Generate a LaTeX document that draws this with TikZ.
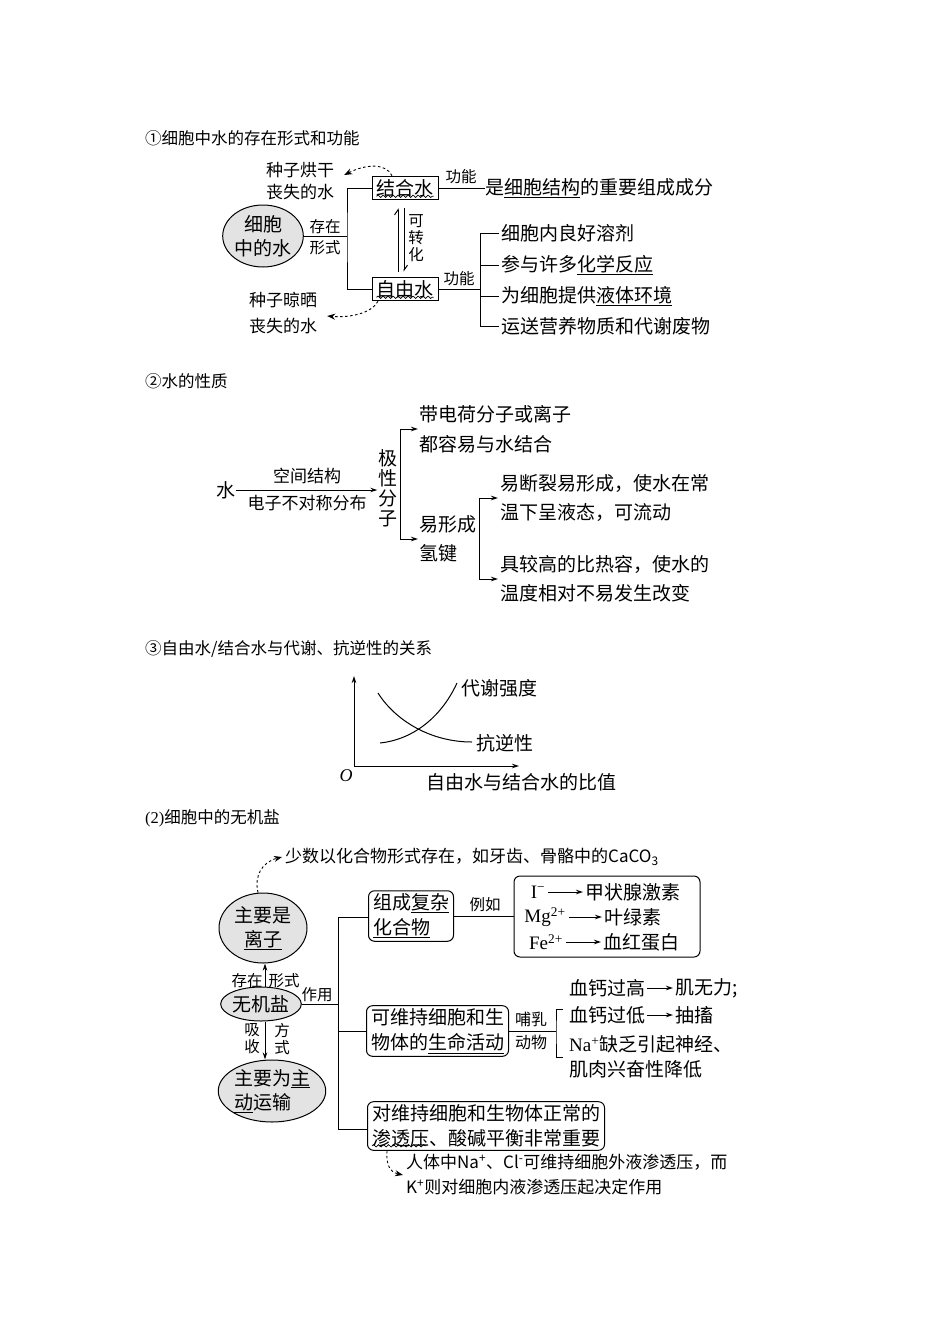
\documentclass[tikz,border=0pt]{standalone}
\usepackage{fontspec}
\setmainfont{Noto Sans CJK SC}
\newfontfamily\tnr{Liberation Serif}
\usetikzlibrary{arrows.meta,decorations.pathmorphing,shapes.geometric}
\tikzset{
 ln/.style={line width=1pt},
 arr/.style={ln,-{Stealth[length=7pt,width=4.5pt]}},
 darr/.style={line width=0.9pt, dash pattern=on 2.5pt off 2.5pt, -{Stealth[length=8pt,width=6pt]}},
 wavy/.style={line width=0.7pt, decorate, decoration={snake, amplitude=1.2pt, segment length=5pt}},
 txt/.style={font=\fontsize{19}{25}\selectfont, inner sep=0pt, align=left},
 ttl/.style={font=\fontsize{16.5}{20}\selectfont, inner sep=0pt, anchor=west},
 lbl/.style={font=\fontsize{15.5}{19}\selectfont, inner sep=0pt, align=center},
 hand/.style={font=\fontsize{17}{22}\selectfont, inner sep=0pt, align=left},
 sbox/.style={draw, line width=1pt, font=\fontsize{19}{25}\selectfont, inner xsep=4.5pt, inner ysep=3pt, align=left},
 rbox/.style={sbox, rounded corners=6pt},
 oval/.style={ellipse, draw, line width=1pt, fill=gray!22, inner sep=0pt, font=\fontsize{19}{24}\selectfont, align=center},
 harp/.style={ln, -{Straight Barb[harpoon,length=5pt,width=7pt]}},
}
\begin{document}
\begin{tikzpicture}[x=1pt,y=-1pt]
\useasboundingbox (0,0) rectangle (950,1344);
% ---------------- section 1
\node[ttl] (t1) at (145,138) {①细胞中水的存在形式和功能};
\node[oval, minimum width=79, minimum height=62] (cell) at (263,236) {细胞\\中的水};
\node[lbl] (cz) at (325,227) {存在};
\node[lbl] (xs) at (325,248) {形式};
\node[sbox] (jhs) at (405,188) {结合水};
\node[sbox] (zys) at (405,289) {自由水};
\coordinate (fk1) at (347,236);
\draw[ln] (cell.east) -- (fk1);
\draw[ln] (jhs.west) -| (fk1) |- (zys.west);
\draw[wavy] ([xshift=5pt,yshift=4pt]jhs.south west) -- ([xshift=-5pt,yshift=4pt]jhs.south east);
\draw[wavy] ([xshift=5pt,yshift=4pt]zys.south west) -- ([xshift=-5pt,yshift=4pt]zys.south east);
\draw[harp] ([xshift=-7pt,yshift=5pt]zys.north) -- ([xshift=-7pt,yshift=-8pt]jhs.south);
\draw[harp] ([xshift=-1pt,yshift=-8pt]jhs.south) -- ([xshift=-1pt,yshift=5pt]zys.north);
\node[lbl, font=\fontsize{15.5}{17}\selectfont] (khz) at (416,238) {可\\转\\化};
\node[lbl] (gn1) at (461,177) {功能};
\node[txt, anchor=west] (f1) at (485,188) {是\underline{细胞结构}的重要组成成分};
\draw[ln] (jhs.east) -- (jhs.east -| f1.west);
\node[lbl] (gn2) at (459,279) {功能};
\coordinate (fk2) at (480,289);
\draw[ln] (zys.east) -- (fk2);
\node[txt, anchor=west] (g1) at (501,233) {细胞内良好溶剂};
\node[txt, anchor=west] (g2) at (501,265) {参与许多\underline{化学反应}};
\node[txt, anchor=west] (g3) at (501,296) {为细胞提供\underline{液体环境}};
\node[txt, anchor=west] (g4) at (501,326) {运送营养物质和代谢废物};
\draw[ln] ([xshift=-2pt]g1.west) -| (fk2);
\draw[ln] ([xshift=-2pt]g4.west) -| (fk2);
\draw[ln] (g2.west -| fk2) -- ([xshift=-2pt]g2.west);
\draw[ln] (g3.west -| fk2) -- ([xshift=-2pt]g3.west);
\node[hand] (h1) at (300,181) {种子烘干\\丧失的水};
\draw[darr] ([xshift=-13pt]jhs.north) .. controls (386,163) and (366,164) .. ([xshift=10pt,yshift=6pt]h1.east);
\node[hand, font=\fontsize{17}{26}\selectfont] (h2) at (283,313) {种子晾晒\\丧失的水};
\draw[darr] ([xshift=-27pt]zys.south) .. controls (372,313) and (350,318) .. ([xshift=10pt,yshift=-3pt]h2.east);
% ---------------- section 2
\node[ttl] (t2) at (145,381) {②水的性质};
\node[txt] (w) at (226,490) {水};
\node[txt, align=center, font=\fontsize{19}{20}\selectfont] (jx) at (388,488) {极\\性\\分\\子};
\draw[arr] (w.east) -- ([xshift=-1pt]w.east -| jx.west);
\node[lbl, font=\fontsize{17}{20}\selectfont] (kj) at (307,476) {空间结构};
\node[lbl, font=\fontsize{17}{20}\selectfont] (dz) at (307,503) {电子不对称分布};
\coordinate (fk3) at (400,488);
\node[txt, anchor=west, font=\fontsize{19}{30}\selectfont] (p1) at (419,429) {带电荷分子或离子\\都容易与水结合};
\node[txt, anchor=west, font=\fontsize{19}{29}\selectfont] (p2) at (419,539) {易形成\\氢键};
\draw[arr] (fk3) |- ([xshift=-1pt]p1.west);
\draw[arr] (fk3) |- ([xshift=-1pt]p2.west);
\coordinate (fk4) at (479,539);
\node[txt, anchor=west, font=\fontsize{19}{29}\selectfont] (p3) at (500,498) {易断裂易形成，使水在常\\温下呈液态，可流动};
\node[txt, anchor=west, font=\fontsize{19}{29}\selectfont] (p4) at (500,579) {具较高的比热容，使水的\\温度相对不易发生改变};
\draw[arr] (fk4) |- ([xshift=-2pt]p3.west);
\draw[arr] (fk4) |- ([xshift=-2pt]p4.west);
% ---------------- section 3
\node[ttl] (t3) at (145,649) {③自由水/结合水与代谢、抗逆性的关系};
\coordinate (O) at (354,766);
\coordinate (ytop) at (354,676);
\coordinate (xend) at (519,766);
\draw[arr] (O) -- (ytop);
\draw[arr] (O) -- (xend);
\draw[ln] (380,743) .. controls (410,740) and (440,720) .. (457,683);
\draw[ln] (378,693) .. controls (395,720) and (430,742) .. (472,742);
\node[txt, anchor=west] (dx) at (461,688) {代谢强度};
\node[txt, anchor=west] (kn) at (476,743) {抗逆性};
\node[inner sep=0pt, font=\tnr\itshape\fontsize{18}{20}\selectfont] (Olab) at (346,776) {O};
\node[txt] (xl) at (521,782) {自由水与结合水的比值};
% ---------------- section 4
\node[ttl] (t4) at (145,818) {{\tnr (2)}细胞中的无机盐};
\node[oval, minimum width=88, minimum height=70] (e1) at (263,928) {主要是\\\underline{离子}};
\node[oval, minimum width=76, minimum height=34] (e2) at (261,1004) {无机盐};
\node[oval, align=left, minimum width=106, minimum height=62] (e3) at (272,1091) {主要为\underline{主}\\\underline{动}运输};
\draw[arr] ([xshift=4pt]e2.north) -- ([xshift=4pt]e2.north |- e1.south);
\node[lbl] (czx) at (247,981) {存在};
\node[lbl] (xsx) at (284,981) {形式};
\draw[arr] ([xshift=4pt]e2.south) -- ([xshift=4pt]e2.south |- e3.north);
\node[lbl, font=\fontsize{15.5}{17}\selectfont] (xish) at (252,1039) {吸\\收};
\node[lbl, font=\fontsize{15.5}{17}\selectfont] (fsh) at (282,1039) {方\\式};
\node[hand, anchor=west] (h3) at (285,857) {少数以化合物形式存在，如牙齿、骨骼中的CaCO\textsubscript{3}};
\draw[darr] ([xshift=-5pt]e1.north) .. controls (254,876) and (262,862) .. ([xshift=-3pt]h3.west);
\node[lbl] (zy) at (317,995) {作用};
\coordinate (vt) at (338,917);
\coordinate (vb) at (338,1129);
\node[rbox, anchor=west] (b1) at (368,916) {组成\underline{复杂}\\\underline{化合物}};
\node[rbox, anchor=west] (b2) at (366,1031) {可维持细胞和生\\物体的\underline{生命活动}};
\node[rbox, anchor=west] (b3) at (367,1126) {对维持细胞和生物体正常的\\渗透压、酸碱平衡非常重要};
\draw[ln] (vt) -- (vb);
\draw[ln] (e2.east) -- (e2.east -| vt);
\draw[ln] (vt) -- (vt -| b1.west);
\draw[ln] (b2.west -| vt) -- (b2.west);
\draw[ln] (vb) -- (vb -| b3.west);
\draw[wavy] ([xshift=5pt,yshift=5pt]b3.south west) -- ++(54,0);
\node[lbl] (lr) at (485,905) {例如};
\node[rbox, minimum width=186, minimum height=81] (b4) at (607,916.5) {};
\draw[ln] (b1.east) -- (b1.east -| b4.west);
\node[txt, font=\tnr\fontsize{19}{22}\selectfont] (i1) at (538,892) {I\textsuperscript{−}};
\node[txt, anchor=west] (q1) at (585,892) {甲状腺激素};
\node[txt, font=\tnr\fontsize{19}{22}\selectfont] (i2) at (545,917) {Mg\textsuperscript{2+}};
\node[txt, anchor=west] (q2) at (604,917) {叶绿素};
\node[txt, font=\tnr\fontsize{19}{22}\selectfont] (i3) at (546,942) {Fe\textsuperscript{2+}};
\node[txt, anchor=west] (q3) at (603,942) {血红蛋白};
\draw[arr, shorten <=3pt, shorten >=2pt] (i1.east) -- (i1.east -| q1.west);
\draw[arr, shorten <=3pt, shorten >=2pt] (i2.east) -- (i2.east -| q2.west);
\draw[arr, shorten <=3pt, shorten >=2pt] (i3.east) -- (i3.east -| q3.west);
\node[lbl, font=\fontsize{16}{23}\selectfont] (bn) at (531,1031) {哺乳\\动物};
\coordinate (br) at (556,1031);
\coordinate (brt) at (563,1009);
\coordinate (brb) at (563,1057);
\draw[ln] (b2.east) -- (b2.east -| br);
\draw[ln] (brt) -| (br) |- (brb);
\node[txt, anchor=west] (c1) at (569,988) {血钙过高};
\node[txt, anchor=west] (c1b) at (675,988) {肌无力;};
\node[txt, anchor=west] (c2) at (569,1015) {血钙过低};
\node[txt, anchor=west] (c2b) at (675,1015) {抽搐};
\draw[arr, shorten <=2pt, shorten >=2pt] (c1.east) -- (c1.east -| c1b.west);
\draw[arr, shorten <=2pt, shorten >=2pt] (c2.east) -- (c2.east -| c2b.west);
\node[txt, anchor=west] (c3) at (569,1057) {{\tnr Na\textsuperscript{+}}缺乏引起神经、\\肌肉兴奋性降低};
\node[hand, anchor=west, font=\fontsize{17}{25}\selectfont] (h4) at (406,1175) {人体中Na\textsuperscript{+}、Cl\textsuperscript{-}可维持细胞外液渗透压，而\\K\textsuperscript{+}则对细胞内液渗透压起决定作用};
\draw[darr] ([xshift=20pt]b3.south west) .. controls (386,1165) and (390,1172) .. ([xshift=-3pt]h4.west);
\end{tikzpicture}
\end{document}
